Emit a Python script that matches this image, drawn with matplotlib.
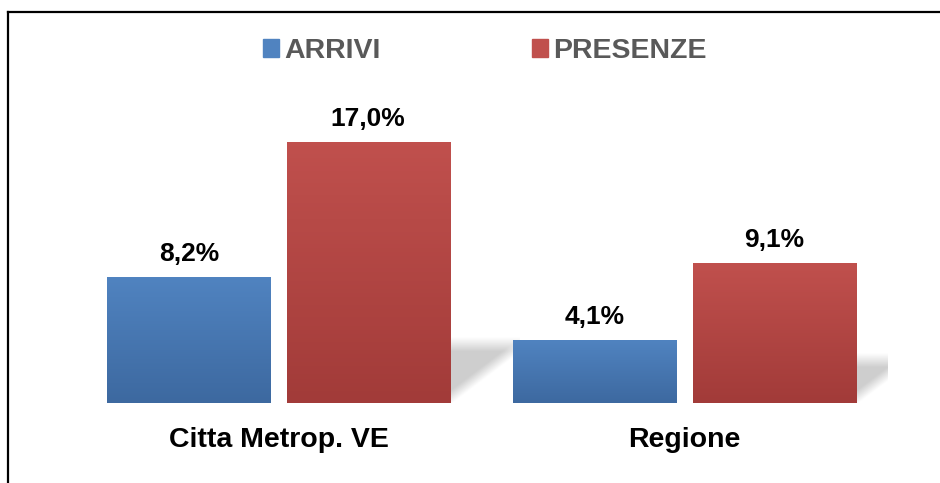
import numpy as np
import matplotlib
matplotlib.use("Agg")
from matplotlib import pyplot as plt
from matplotlib.patches import Rectangle
from matplotlib.lines import Line2D

plt.rcParams["font.family"] = ["Liberation Sans", "DejaVu Sans"]
plt.rcParams["font.weight"] = "bold"

categories = ["Citta Metrop. VE", "Regione"]
series_names = ["ARRIVI", "PRESENZE"]
arrivi = [8.2, 4.1]
presenze = [17.0, 9.1]
value_labels = [["8,2%", "4,1%"], ["17,0%", "9,1%"]]

colors_top = ["#5083C0", "#C0504D"]
colors_bottom = ["#3D69A0", "#A23B39"]


def gradient_bar(ax, bar, top, bottom):
    # vertical gradient clipped to the bar rectangle
    x0, y0 = bar.get_x(), bar.get_y()
    w, h = bar.get_width(), bar.get_height()
    c1 = np.array(matplotlib.colors.to_rgb(top))
    c2 = np.array(matplotlib.colors.to_rgb(bottom))
    t = np.linspace(0, 1, 64)[:, None]
    img = (c1 * (1 - t) + c2 * t)[:, None, :]
    im = ax.imshow(img, extent=[x0, x0 + w, y0, y0 + h], aspect="auto",
                   origin="upper", zorder=3)
    im.set_clip_path(bar)


def shadow(ax, xr, value, px_x, px_y):
    # soft diagonal shadow behind the right bar of a group
    w_px = 70
    h_px = (1.6 + 0.13 * value) * px_y
    u = np.linspace(0, w_px, 140)[None, :]
    v = np.linspace(0, h_px + 12, 120)[:, None]
    diag = np.clip((v - 0.75 * u + 2) / 14.0, 0, 1)
    topf = np.clip((h_px - v) / 14.0 + 0.5, 0, 1)
    a = diag * topf
    rgba = np.zeros(a.shape + (4,))
    rgba[..., :3] = 0.79
    rgba[..., 3] = a * 0.9
    ax.imshow(rgba, extent=[xr, xr + w_px / px_x, 0, (h_px + 12) / px_y],
              origin="lower", aspect="auto", zorder=1, interpolation="bilinear")


fig = plt.figure(figsize=(9.4, 4.83), dpi=100)
ax = fig.add_axes([75.5 / 940, 80 / 483, 812 / 940, 307 / 483])

x = np.arange(len(categories))
width = 0.4015
gap = 16 / 406.0
b1 = ax.bar(x - (width + gap) / 2, arrivi, width, color=colors_top[0], zorder=2)
b2 = ax.bar(x + (width + gap) / 2, presenze, width, color=colors_top[1], zorder=2)

ax.set_xlim(-0.5, 1.5)
ax.set_ylim(0, 20)

px_x = 406.0
px_y = 307 / 20.0

for bars, ct, cb in zip([b1, b2], colors_top, colors_bottom):
    for bar in bars:
        gradient_bar(ax, bar, ct, cb)

for bar, val in zip(b2, presenze):
    shadow(ax, bar.get_x() + bar.get_width(), val, px_x, px_y)

for bars, labels in zip([b1, b2], value_labels):
    for bar, lab in zip(bars, labels):
        ax.annotate(lab, (bar.get_x() + bar.get_width() / 2, bar.get_height()),
                    xytext=(0, 11.5), textcoords="offset points",
                    ha="center", va="baseline", fontsize=19, fontweight="bold",
                    color="#000000", zorder=5)

for i, cat in enumerate(categories):
    ax.annotate(cat, (x[i], 0), xycoords=("data", "axes fraction"),
                xytext=(0, -31.7), textcoords="offset points",
                ha="center", va="baseline", fontsize=20.5, fontweight="bold")

ax.set_xticks([])
ax.set_yticks([])
for s in ax.spines.values():
    s.set_visible(False)
ax.set_xlim(-0.5, 1.5)
ax.set_ylim(0, 20)

handles = [Rectangle((0, 0), 1, 1, color=c) for c in colors_top]
leg = fig.legend(handles, series_names, loc="center", ncol=2,
                 bbox_to_anchor=(0.516, 1 - 51 / 483), frameon=False,
                 fontsize=20.5, handlelength=0.55, handleheight=0.55,
                 handletextpad=0.2, columnspacing=5.3, borderpad=0)
for t in leg.get_texts():
    t.set_color("#595959")
    t.set_fontweight("bold")

# frame lines (top and left only visible)
fig.add_artist(Line2D([8 / 940, 1], [1 - 12 / 483, 1 - 12 / 483],
                      transform=fig.transFigure, color="black", lw=1.6))
fig.add_artist(Line2D([8 / 940, 8 / 940], [0, 1 - 12 / 483],
                      transform=fig.transFigure, color="black", lw=1.6))

fig.savefig("out.png", dpi=100)
